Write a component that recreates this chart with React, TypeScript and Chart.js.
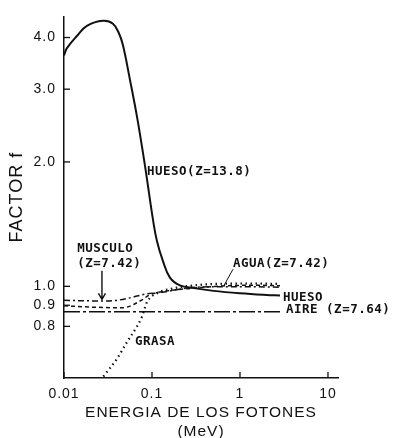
import React, { useEffect, useRef } from "react";
import { Chart, registerables } from "chart.js";

Chart.register(...registerables);

// ---- axis ticks ----
const xTicks = [0.01, 0.1, 1, 10];
const xTickLabels = ["0.01", "0.1", "1", "10"];
const yTicks = [0.8, 0.9, 1.0, 2.0, 3.0, 4.0];
const yTickLabels = ["0.8", "0.9", "1.0", "2.0", "3.0", "4.0"];

// ---- series (photon energy MeV, factor f) ----
const huesoE = [0.01, 0.0108, 0.0141, 0.0182, 0.0277, 0.036, 0.0422, 0.0468, 0.0562, 0.0676, 0.0832, 0.1026, 0.114, 0.133, 0.16, 0.208, 0.3, 0.5, 1, 2, 2.85];
const huesoF = [3.62, 3.77, 4.04, 4.27, 4.39, 4.32, 4.09, 3.83, 3.16, 2.57, 1.96, 1.45, 1.285, 1.152, 1.05, 1.005, 0.99, 0.975, 0.962, 0.953, 0.95];

const musculoE = [0.01, 0.02, 0.03, 0.04, 0.0548, 0.0832, 0.13, 0.285, 0.6, 1.2, 2.85];
const musculoF = [0.925, 0.922, 0.921, 0.925, 0.937, 0.957, 0.968, 0.993, 0.998, 0.998, 0.995];

const aguaE = [0.01, 0.0225, 0.0456, 0.077, 0.0925, 0.15, 0.3, 0.7, 1.5, 2.85];
const aguaF = [0.897, 0.89, 0.887, 0.927, 0.952, 0.975, 0.99, 1.003, 1.006, 1.003];

const grasaE = [0.028, 0.04, 0.052, 0.0676, 0.077, 0.0877, 0.114, 0.16, 0.3, 0.7, 1.5, 2.85];
const grasaF = [0.605, 0.668, 0.733, 0.8, 0.845, 0.916, 0.962, 0.985, 1.005, 1.015, 1.016, 1.013];

const aireE = [0.01, 2.85];
const aireF = [0.868, 0.868];

// ---- text annotations (data coordinates) ----
const notes = [
  { text: "HUESO(Z=13.8)", x: 0.0877, y: 1.89 },
  { text: "MUSCULO", x: 0.0141, y: 1.23 },
  { text: "(Z=7.42)", x: 0.0141, y: 1.134 },
  { text: "AGUA(Z=7.42)", x: 0.833, y: 1.134 },
  { text: "HUESO", x: 3.08, y: 0.937 },
  { text: "AIRE (Z=7.64)", x: 3.33, y: 0.877 },
  { text: "GRASA", x: 0.064, y: 0.733 },
];
const musculoArrow = { x: 0.027, yFrom: 1.09, yTo: 0.93 };
const aguaLeader = { x1: 0.833, y1: 1.1, x2: 0.658, y2: 1.005 };

const INK = "#111111";
const pts = (xs: number[], ys: number[]) => xs.map((x, i) => ({ x, y: ys[i] }));

const overlay = {
  id: "overlay",
  beforeDraw(chart: any) {
    chart.ctx.letterSpacing = "1px";
  },
  afterDraw(chart: any) {
    const { ctx, chartArea } = chart;
    const sx = chart.scales.x;
    const sy = chart.scales.y;
    ctx.save();
    ctx.letterSpacing = "0px";
    ctx.strokeStyle = INK;
    ctx.fillStyle = INK;
    ctx.lineWidth = 1.3;
    // inward tick marks
    yTicks.forEach((v) => {
      const py = sy.getPixelForValue(v);
      ctx.beginPath();
      ctx.moveTo(chartArea.left, py);
      ctx.lineTo(chartArea.left + 6, py);
      ctx.stroke();
    });
    xTicks.forEach((v) => {
      const px = sx.getPixelForValue(v);
      ctx.beginPath();
      ctx.moveTo(px, chartArea.bottom);
      ctx.lineTo(px, chartArea.bottom - 6);
      ctx.stroke();
    });
    // labels
    ctx.font = 'bold 12.5px "DejaVu Sans Mono"';
    ctx.letterSpacing = "0.5px";
    ctx.textAlign = "left";
    ctx.textBaseline = "middle";
    notes.forEach((n) => {
      ctx.fillText(n.text, sx.getPixelForValue(n.x), sy.getPixelForValue(n.y));
    });
    // arrow to MUSCULO
    const ax = sx.getPixelForValue(musculoArrow.x);
    const ay1 = sy.getPixelForValue(musculoArrow.yFrom);
    const ay2 = sy.getPixelForValue(musculoArrow.yTo);
    ctx.lineWidth = 1.4;
    ctx.beginPath();
    ctx.moveTo(ax, ay1);
    ctx.lineTo(ax, ay2);
    ctx.moveTo(ax - 3.5, ay2 - 6);
    ctx.lineTo(ax, ay2);
    ctx.lineTo(ax + 3.5, ay2 - 6);
    ctx.stroke();
    // leader for AGUA
    ctx.lineWidth = 1;
    ctx.beginPath();
    ctx.moveTo(sx.getPixelForValue(aguaLeader.x1), sy.getPixelForValue(aguaLeader.y1));
    ctx.lineTo(sx.getPixelForValue(aguaLeader.x2), sy.getPixelForValue(aguaLeader.y2));
    ctx.stroke();
    ctx.restore();
    chart.ctx.letterSpacing = "0px";
  },
};

export default function App() {
  const ref = useRef<HTMLCanvasElement | null>(null);

  useEffect(() => {
    document.body.style.margin = "0";
    const canvas = ref.current;
    if (!canvas) return;
    Chart.defaults.font.family = '"Liberation Sans", Arial, sans-serif';
    Chart.defaults.color = INK;

    const common = { pointRadius: 0, fill: false, cubicInterpolationMode: "monotone" as const, borderColor: INK };

    const chart = new Chart(canvas, {
      type: "line",
      data: {
        datasets: [
          { pointRadius: 0, fill: false, borderColor: INK, tension: 0.4, label: "HUESO", data: pts(huesoE, huesoF), borderWidth: 2 },
          { ...common, label: "MUSCULO", data: pts(musculoE, musculoF), borderWidth: 1.5, borderDash: [6, 3, 2, 3] },
          { ...common, label: "AGUA", data: pts(aguaE, aguaF), borderWidth: 1.5, borderDash: [4, 3] },
          { ...common, label: "GRASA", data: pts(grasaE, grasaF), borderWidth: 2.2, borderDash: [1.5, 3.5] },
          { ...common, label: "AIRE", data: pts(aireE, aireF), borderWidth: 1.5, borderDash: [16, 3, 3, 3] },
        ],
      },
      options: {
        responsive: false,
        animation: false,
        devicePixelRatio: 1,
        layout: { padding: { top: 10, right: 56, bottom: 0, left: 0 } },
        plugins: { legend: { display: false }, tooltip: { enabled: false } },
        scales: {
          x: {
            type: "logarithmic",
            min: 0.01,
            max: 13,
            afterBuildTicks: (s: any) => {
              s.ticks = xTicks.map((v) => ({ value: v }));
            },
            afterFit: (s: any) => {
              s.height = 60;
            },
            ticks: {
              autoSkip: false,
              maxRotation: 0,
              padding: 8,
              font: { size: 14 },
              color: INK,
              callback: (_v: any, i: number) => xTickLabels[i],
            },
            grid: { display: true, drawOnChartArea: false, drawTicks: false },
            border: { display: true, color: INK, width: 1.5 },
            title: {
              display: true,
              text: ["ENERGIA DE LOS FOTONES", "(MeV)"],
              font: { size: 15.5, lineHeight: "19px" as any },
              color: INK,
              padding: { top: 0, bottom: -3.5 },
            },
          },
          y: {
            type: "logarithmic",
            min: 0.605,
            max: 4.5,
            afterBuildTicks: (s: any) => {
              s.ticks = yTicks.map((v) => ({ value: v }));
            },
            afterFit: (s: any) => {
              s.width = 64;
            },
            ticks: {
              autoSkip: false,
              padding: 8,
              font: { size: 14 },
              color: INK,
              callback: (_v: any, i: number) => yTickLabels[i],
            },
            grid: { display: true, drawOnChartArea: false, drawTicks: false },
            border: { display: true, color: INK, width: 1.5 },
            title: {
              display: true,
              text: "FACTOR f",
              font: { size: 18 },
              color: INK,
              padding: { top: 6, bottom: 0 },
            },
          },
        },
      },
      plugins: [overlay],
    });
    return () => chart.destroy();
  }, []);

  return (
    <div style={{ width: 394, height: 438 }}>
      <canvas ref={ref} width={394} height={438} />
    </div>
  );
}
